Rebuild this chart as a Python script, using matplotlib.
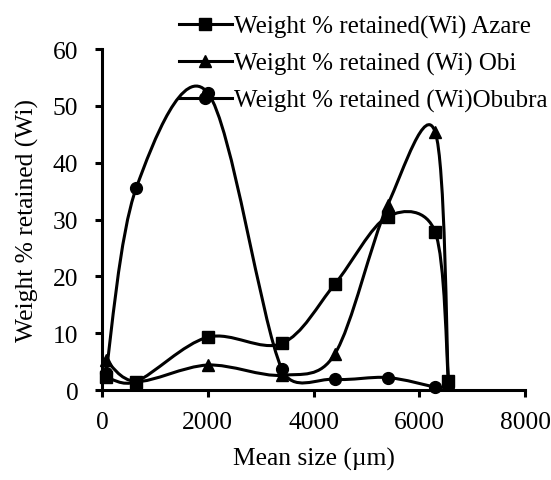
#Weight % retained against mean size for three sites
#Smoothed lines drawn as cubic Bezier segments (Excel style smoothing)

import matplotlib.pyplot as plt
from matplotlib.path import Path
from matplotlib.patches import PathPatch
from matplotlib.lines import Line2D
import numpy

#---Data---
MeanSize = [75, 650, 2000, 3400, 4400, 5400, 6300, 6550]

Azare = [2.3, 1.5, 9.3, 8.2, 18.6, 30.5, 27.8, 1.6]
Obi = [5.3, 1.5, 4.4, 2.6, 6.3, 32.5, 45.4, 1.5]
ObubraSize = [75, 650, 2000, 3400, 4400, 5400, 6300]
Obubra = [3.0, 35.6, 52.3, 3.7, 1.9, 2.2, 0.5]

Labels = ["Weight % retained(Wi) Azare",
          "Weight % retained (Wi) Obi",
          "Weight % retained (Wi)Obubra"]
Markers = ["s", "^", "o"]

FontSize = 18.4
LegendFontSize = 18
LineWidth = 2.2
MarkerSize = 8.5
#----------

plt.rcParams['font.family'] = ['Liberation Serif', 'DejaVu Serif']

def SmoothPath(Ax, X, Y):
    """Bezier path through the points, control arm = min(|P2-P0|/6, |P2-P1|/2) on screen"""
    P = numpy.column_stack([X, Y]).astype(float)
    S = Ax.transData.transform(P)
    N = len(P)
    Verts = [P[0]]
    Codes = [Path.MOVETO]
    for i in range(N - 1):
        A = i - 1 if i > 0 else i
        B = i + 2 if i + 2 < N else i + 1
        D1 = numpy.hypot(*(S[i + 1] - S[i]))
        DA = numpy.hypot(*(S[i + 1] - S[A]))
        DB = numpy.hypot(*(S[B] - S[i]))
        F1 = min(1 / 6, D1 / (2 * DA)) if DA > 0 else 1 / 6
        F2 = min(1 / 6, D1 / (2 * DB)) if DB > 0 else 1 / 6
        C1 = P[i] + (P[i + 1] - P[A]) * F1
        C2 = P[i + 1] - (P[B] - P[i]) * F2
        Verts += [C1, C2, P[i + 1]]
        Codes += [Path.CURVE4] * 3
    return Path(Verts, Codes)

Fig = plt.figure(figsize=(5.51, 4.81), dpi=100)
Ax = Fig.add_axes([0.185, 0.187, 0.768, 0.709])
Ax.set_xlim(0, 8000)
Ax.set_ylim(0, 60)

Handles = []
for (X, Y, M, L) in [(MeanSize, Azare, Markers[0], Labels[0]),
                     (MeanSize, Obi, Markers[1], Labels[1]),
                     (ObubraSize, Obubra, Markers[2], Labels[2])]:
    Ax.add_patch(PathPatch(SmoothPath(Ax, X, Y), facecolor="none", edgecolor="black",
                           linewidth=LineWidth, zorder=2, clip_on=False))
    Ax.plot(X, Y, linestyle="none", marker=M, color="black", markersize=MarkerSize,
            zorder=3, clip_on=False)
    Handles.append(Line2D([], [], color="black", linewidth=LineWidth, marker=M,
                          markersize=MarkerSize, label=L))

Ax.set_xticks([0, 2000, 4000, 6000, 8000])
Ax.set_yticks([0, 10, 20, 30, 40, 50, 60])
Ax.spines["top"].set_visible(False)
Ax.spines["right"].set_visible(False)
Ax.spines["left"].set_linewidth(2.2)
Ax.spines["bottom"].set_linewidth(2.2)
Ax.tick_params(direction="out", width=2.2, length=5, labelsize=FontSize)
Ax.tick_params(axis="x", pad=10)
Ax.tick_params(axis="y", pad=12)
Ax.set_xlabel("Mean size (\u00b5m)", fontsize=FontSize, labelpad=10)
Ax.set_ylabel("Weight % retained (Wi)", fontsize=FontSize, labelpad=10)

Fig.legend(handles=Handles, loc="upper left", bbox_to_anchor=(179 / 551, 1 - 16 / 481),
           frameon=False, fontsize=LegendFontSize, handlelength=2.1, handletextpad=0.08,
           labelspacing=0.55, borderaxespad=0, borderpad=0)

Fig.savefig("out.png", dpi=100)
